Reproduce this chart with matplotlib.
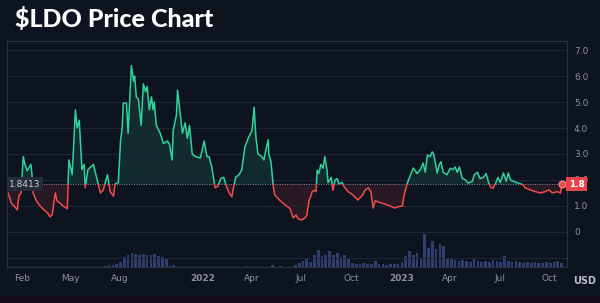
import matplotlib.pyplot as plt
import matplotlib.dates as mdates
from matplotlib.patches import Rectangle
import numpy as np
import pandas as pd

# daily-ish closes
price_dates = [
    '2021-01-07', '2021-01-13', '2021-01-18', '2021-01-24', '2021-01-27', '2021-01-31',
    '2021-02-04', '2021-02-07', '2021-02-11', '2021-02-15', '2021-02-18', '2021-02-20',
    '2021-02-22', '2021-02-28', '2021-03-07', '2021-03-14', '2021-03-22', '2021-03-25',
    '2021-03-29', '2021-04-04', '2021-04-07', '2021-04-13', '2021-04-18', '2021-04-26',
    '2021-04-29', '2021-05-05', '2021-05-11', '2021-05-14', '2021-05-18', '2021-05-23',
    '2021-05-27', '2021-05-29', '2021-06-03', '2021-06-13', '2021-06-20', '2021-06-26',
    '2021-07-01', '2021-07-09', '2021-07-14', '2021-07-20', '2021-07-23', '2021-07-29',
    '2021-08-02', '2021-08-05', '2021-08-07', '2021-08-13', '2021-08-16', '2021-08-22',
    '2021-08-26', '2021-08-28', '2021-08-31', '2021-09-04', '2021-09-09', '2021-09-13',
    '2021-09-17', '2021-09-20', '2021-09-24', '2021-09-28', '2021-10-01', '2021-10-03',
    '2021-10-07', '2021-10-14', '2021-10-20', '2021-10-27', '2021-10-31', '2021-11-05',
    '2021-11-07', '2021-11-13', '2021-11-15', '2021-11-18', '2021-11-24', '2021-11-29',
    '2021-12-03', '2021-12-07', '2021-12-12', '2021-12-18', '2021-12-27',
    '2022-01-03', '2022-01-08', '2022-01-12', '2022-01-17', '2022-01-23', '2022-01-28',
    '2022-02-03', '2022-02-08', '2022-02-14', '2022-02-18', '2022-02-23', '2022-02-25',
    '2022-03-02', '2022-03-08', '2022-03-13', '2022-03-19', '2022-03-25', '2022-04-01',
    '2022-04-05', '2022-04-08', '2022-04-12', '2022-04-19', '2022-04-23', '2022-04-27',
    '2022-05-01', '2022-05-02', '2022-05-06', '2022-05-10', '2022-05-13', '2022-05-23',
    '2022-06-01', '2022-06-10', '2022-06-16', '2022-06-21', '2022-06-25', '2022-07-02',
    '2022-07-08', '2022-07-11', '2022-07-15', '2022-07-21', '2022-07-24', '2022-07-28',
    '2022-07-30', '2022-08-02', '2022-08-06', '2022-08-10', '2022-08-13', '2022-08-17',
    '2022-08-19', '2022-08-25', '2022-08-28', '2022-09-01', '2022-09-05', '2022-09-08',
    '2022-09-14', '2022-09-18', '2022-09-25', '2022-10-04', '2022-10-13', '2022-10-21',
    '2022-10-26', '2022-11-01', '2022-11-06', '2022-11-10', '2022-11-14', '2022-11-23',
    '2022-12-02', '2022-12-11', '2022-12-20', '2022-12-26',
    '2023-01-03', '2023-01-06', '2023-01-12', '2023-01-16', '2023-01-18', '2023-01-23',
    '2023-01-30', '2023-02-05', '2023-02-10', '2023-02-14', '2023-02-18', '2023-02-23',
    '2023-02-27', '2023-03-02', '2023-03-08', '2023-03-12', '2023-03-15', '2023-03-19',
    '2023-03-26', '2023-04-01', '2023-04-06', '2023-04-10', '2023-04-14', '2023-04-18',
    '2023-04-23', '2023-04-29', '2023-05-04', '2023-05-12', '2023-05-15', '2023-05-21',
    '2023-05-26', '2023-06-01', '2023-06-06', '2023-06-10', '2023-06-14', '2023-06-19',
    '2023-06-23', '2023-06-28', '2023-07-02', '2023-07-08', '2023-07-13', '2023-07-17',
    '2023-07-21', '2023-07-26', '2023-08-04', '2023-08-13', '2023-08-17', '2023-08-26',
    '2023-09-05', '2023-09-14', '2023-09-23', '2023-09-30', '2023-10-06', '2023-10-15',
    '2023-10-21', '2023-10-24',
]
price_values = [
    1.5, 1.1, 1.0, 0.85, 1.4, 1.5,
    2.9, 2.6, 2.35, 2.5, 2.6, 2.2,
    1.5, 1.2, 1.0, 0.85, 0.7, 0.58,
    0.65, 1.5, 1.2, 1.1, 1.0, 0.9,
    2.77, 2.2, 4.7, 4.0, 4.3, 2.4,
    2.6, 1.7, 2.4, 2.6, 2.0, 1.5,
    1.6, 2.2, 1.55, 1.38, 1.85, 1.9,
    3.5, 4.0, 4.96, 4.96, 3.8, 6.4,
    5.8, 6.0, 5.2, 5.1, 4.1, 5.7,
    5.4, 5.6, 4.7, 5.2, 4.7, 5.0,
    4.1, 3.8, 3.4, 3.5, 3.4, 2.77,
    3.9, 4.5, 5.46, 4.9, 3.8, 4.2,
    3.6, 4.1, 3.0, 2.9, 2.85,
    3.5, 2.9, 2.9, 2.5, 1.7, 1.75,
    2.07, 2.1, 1.7, 1.5, 1.35, 1.6,
    2.1, 2.2, 2.38, 3.27, 3.6, 3.9,
    4.8, 3.7, 3.0, 2.9, 2.77, 3.2,
    3.55, 3.0, 2.7, 1.8, 1.42, 1.2,
    1.04, 0.9, 0.54, 0.65, 0.5, 0.46,
    0.55, 0.65, 1.2, 1.55, 1.6, 1.55,
    2.38, 2.25, 2.6, 2.45, 2.9, 2.4,
    1.9, 2.1, 1.6, 2.0, 2.05, 1.85,
    1.9, 1.73, 1.55, 1.42, 1.23, 1.4,
    1.6, 1.7, 1.55, 0.92, 1.2, 1.13,
    1.07, 1.0, 0.92, 0.97,
    1.0, 1.4, 1.88, 2.1, 2.2, 2.46,
    2.25, 2.4, 2.65, 2.3, 2.96, 2.9,
    3.08, 2.96, 2.27, 2.6, 2.7, 2.3,
    2.2, 2.45, 2.4, 2.5, 2.3, 2.5,
    2.07, 2.0, 1.88, 1.95, 2.2, 2.3,
    2.05, 2.1, 2.25, 1.95, 1.73, 1.68,
    1.85, 2.1, 1.9, 2.27, 1.95, 2.27,
    2.0, 1.95, 1.88, 1.82, 1.7, 1.62,
    1.55, 1.5, 1.55, 1.62, 1.5, 1.55,
    1.5, 1.84,
]

# weekly volume (relative units), weeks starting 2021-01-04
volume_start = '2021-01-04'
volume_values = [
    0.3, 0.3, 0.3, 0.3, 0.3, 0.3, 0.3, 0.3, 0.3, 0.3,
    0.3, 0.3, 0.3, 0.3, 0.3, 0.3, 0.3, 0.3, 0.3, 0.3,
    0.3, 0.3, 0.3, 0.3, 0.3, 0.3, 1, 2, 2, 3,
    5, 10, 12, 14, 13, 12, 13, 12, 12, 13,
    11, 10, 9, 1, 2, 0.5, 0.5, 0.5, 0.5, 0.5,
    0.5, 0.5, 0.5, 0.5, 0.5, 0.5, 0.5, 0.5, 0.5, 0.5,
    0.5, 0.5, 0.5, 1, 0.5, 0.5, 0.5, 0.5, 0.5, 0.5,
    2, 0.5, 1.5, 0.5, 0.5, 0.5, 2, 4, 6, 8,
    5, 12, 17, 11, 12, 16, 12, 14, 10, 12,
    8, 4, 3, 3, 4, 3, 3, 6, 3, 3,
    2, 3, 3, 3, 5, 11, 16, 12, 14, 9,
    33, 19, 26, 18, 23, 21, 9, 8, 7, 6,
    7, 6, 5, 9, 6, 5, 6, 5, 7, 6,
    5, 11, 6, 5, 6, 5, 4, 5, 4, 5,
    4, 4, 5, 4, 5, 6, 4,
]

base_price = 1.8413
last_label = '1.8'

x_tick_dates = ['2021-02-01', '2021-05-01', '2021-08-01', '2022-01-01', '2022-04-01',
                '2022-07-01', '2022-10-01', '2023-01-01', '2023-04-01', '2023-07-01',
                '2023-10-01']
x_tick_labels = ['Feb', 'May', 'Aug', '2022', 'Apr', 'Jul', 'Oct', '2023', 'Apr', 'Jul', 'Oct']
y_ticks = [-1, 0, 1, 2, 3, 4, 5, 6, 7]
y_tick_labels = ['', '0', '1.0', '2.0', '3.0', '4.0', '5.0', '6.0', '7.0']

BG = '#0e1320'
GRID = '#1f2536'
GREEN = '#2fd39a'
RED = '#f04c4c'
TXT = '#8d919c'

dates = pd.to_datetime(price_dates)
prices = np.array(price_values)
vdates = pd.date_range(volume_start, periods=len(volume_values), freq='7D')

fig = plt.figure(figsize=(6, 3.03), dpi=100, facecolor=BG)
# dark frame edge along the bottom of the card
fig.patches.append(Rectangle((0, 0), 1, 7 / 303, transform=fig.transFigure,
                             color='#160d1a', zorder=0))
ax = fig.add_axes([7 / 600, 1 - 267 / 303, 560 / 600, 226 / 303])
axv = ax.twinx()
ax.set_zorder(axv.get_zorder() + 1)
ax.patch.set_visible(False)

# volume
axv.bar(vdates, volume_values, width=5, color='#364479', alpha=0.9, linewidth=0)
axv.set_ylim(0, max(volume_values) * 6.9)
axv.set_yticks([])
for s in axv.spines.values():
    s.set_visible(False)

# price
xmin = mdates.date2num(pd.Timestamp('2021-01-05'))
xmax = mdates.date2num(pd.Timestamp('2023-11-02'))
ax.set_xlim(xmin, xmax)
ax.set_ylim(-1.35, 7.35)

ax.fill_between(dates, prices, base_price, where=prices >= base_price, interpolate=True,
                color=GREEN, alpha=0.13, linewidth=0)
ax.fill_between(dates, prices, base_price, where=prices < base_price, interpolate=True,
                color=RED, alpha=0.12, linewidth=0)

up, = ax.plot(dates, prices, color=GREEN, lw=1.1, solid_joinstyle='round')
dn, = ax.plot(dates, prices, color=RED, lw=1.1, solid_joinstyle='round')
up.set_clip_path(Rectangle((xmin, base_price), xmax - xmin, 20, transform=ax.transData))
dn.set_clip_path(Rectangle((xmin, -20), xmax - xmin, base_price + 20, transform=ax.transData))

ax.axhline(base_price, color='#8a909b', lw=0.7, ls=(0, (1, 1.5)), zorder=1)
ax.plot(dates[-1], prices[-1], 'o', ms=5, color=RED, mec='#ff8a8a', mew=0.8, zorder=5)

ax.set_yticks(y_ticks)
ax.set_yticklabels(y_tick_labels)
ax.yaxis.tick_right()
ax.tick_params(axis='y', length=0, pad=5, labelsize=6.5, labelcolor=TXT)
ax.set_xticks(mdates.date2num(pd.to_datetime(x_tick_dates)))
ax.set_xticklabels(x_tick_labels)
ax.tick_params(axis='x', length=0, pad=5, labelsize=6.5, labelcolor=TXT)
for lbl in ax.get_xticklabels():
    if lbl.get_text() in ('2022', '2023'):
        lbl.set_fontweight('bold')
ax.grid(axis='y', color=GRID, lw=0.8)
ax.grid(axis='x', visible=False)
for s in ax.spines.values():
    s.set_color('#2a3143')
    s.set_linewidth(0.8)

# price labels
ax.text(0.004, base_price, f'{base_price:.4f}', transform=ax.get_yaxis_transform(),
        ha='left', va='center', fontsize=6.5, color='#c9ccd3',
        bbox=dict(boxstyle='square,pad=0.3', fc='#262b38', ec='none'))
ax.text(1.003, prices[-1], last_label, transform=ax.get_yaxis_transform(),
        ha='left', va='center', fontsize=6.5, color='white', fontweight='bold',
        bbox=dict(boxstyle='square,pad=0.3', fc='#e8444a', ec='none'), clip_on=False,
        zorder=10)

fig.text(585 / 600, 1 - 281 / 303, 'USD', ha='center', va='center', fontsize=7,
         color='#b8bcc6', fontweight='bold')

fig.text(15 / 600, 1 - 19 / 303, '$LDO Price Chart', ha='left', va='center',
         fontsize=18, color='white', fontweight='black', family=['Lato', 'DejaVu Sans'])

fig.savefig('out.png', dpi=100, facecolor=BG)
